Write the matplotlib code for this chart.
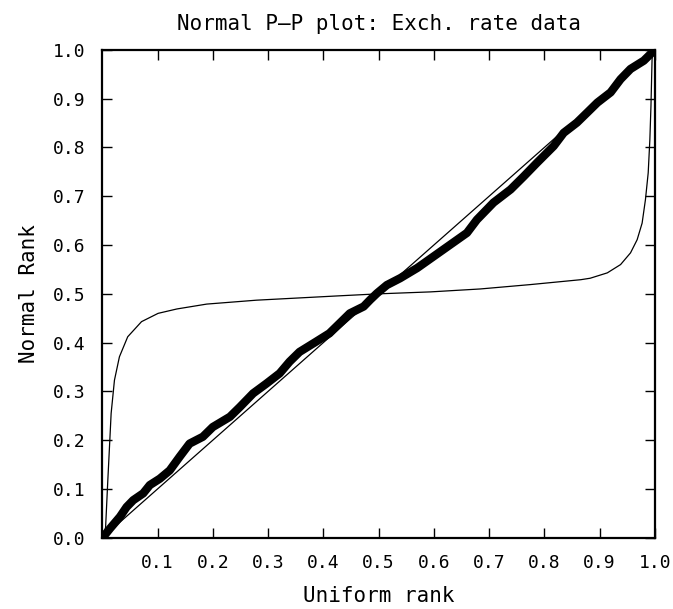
import matplotlib
matplotlib.use('Agg')
import matplotlib.pyplot as plt

uniform_rank = [0.0, 0.002, 0.014, 0.032, 0.044, 0.056, 0.074, 0.086, 0.104, 0.122,
                0.14, 0.158, 0.182, 0.2, 0.231, 0.249, 0.273, 0.297, 0.321, 0.339,
                0.357, 0.387, 0.411, 0.43, 0.448, 0.473, 0.485, 0.497, 0.515, 0.539,
                0.57, 0.6, 0.63, 0.66, 0.678, 0.708, 0.739, 0.763, 0.787, 0.817,
                0.835, 0.859, 0.878, 0.896, 0.92, 0.938, 0.956, 0.98, 0.998, 1.0]
normal_rank = [0.0, 0.002, 0.019, 0.043, 0.063, 0.077, 0.091, 0.108, 0.121, 0.138,
               0.166, 0.193, 0.207, 0.227, 0.248, 0.268, 0.296, 0.316, 0.337, 0.361,
               0.381, 0.402, 0.419, 0.44, 0.46, 0.474, 0.488, 0.501, 0.518, 0.532,
               0.553, 0.577, 0.601, 0.625, 0.652, 0.687, 0.714, 0.741, 0.769, 0.803,
               0.83, 0.851, 0.872, 0.892, 0.913, 0.94, 0.961, 0.978, 0.998, 1.0]

# heavy-tailed reference curve
ref_x = [0.003, 0.006, 0.01, 0.013, 0.016, 0.022, 0.031, 0.046, 0.071, 0.101,
         0.135, 0.189, 0.279, 0.43, 0.5, 0.594, 0.684, 0.775, 0.866, 0.883,
         0.914, 0.938, 0.956, 0.968, 0.977, 0.983, 0.988, 0.991, 0.993, 0.995,
         0.997]
ref_y = [0.0, 0.022, 0.118, 0.186, 0.255, 0.323, 0.371, 0.412, 0.443, 0.46,
         0.469, 0.479, 0.487, 0.496, 0.5, 0.504, 0.51, 0.519, 0.529, 0.532,
         0.543, 0.56, 0.584, 0.611, 0.645, 0.693, 0.748, 0.816, 0.885, 0.981,
         1.0]

diag = [0.0, 1.0]

x_ticks = [0.1, 0.2, 0.3, 0.4, 0.5, 0.6, 0.7, 0.8, 0.9, 1.0]
y_ticks = [0.0, 0.1, 0.2, 0.3, 0.4, 0.5, 0.6, 0.7, 0.8, 0.9, 1.0]

plt.rcParams['font.family'] = ['DejaVu Sans Mono', 'DejaVu Sans']

fig = plt.figure(figsize=(6.73, 6.09), dpi=100)
ax = fig.add_axes([0.152, 0.117, 0.821, 0.801])

ax.plot(diag, diag, color='black', lw=0.9)
ax.plot(ref_x, ref_y, color='black', lw=0.9)
ax.plot(uniform_rank, normal_rank, color='black', lw=6,
        solid_capstyle='round', solid_joinstyle='round')

ax.set_xlim(0, 1)
ax.set_ylim(0, 1)
ax.set_xticks(x_ticks)
ax.set_yticks(y_ticks)
ax.set_xticklabels([f'{t:.1f}' for t in x_ticks])
ax.set_yticklabels([f'{t:.1f}' for t in y_ticks])

ax.tick_params(direction='in', length=7, width=1, top=True, right=True,
               labelsize=13, pad=12, colors='black')
for s in ax.spines.values():
    s.set_linewidth(1.6)

ax.set_title('Normal P\u2013P plot: Exch. rate data', fontsize=15, pad=14)
ax.set_xlabel('Uniform rank', fontsize=15, labelpad=10)
ax.set_ylabel('Normal Rank', fontsize=15, labelpad=10)

fig.savefig('out.png', dpi=100)
